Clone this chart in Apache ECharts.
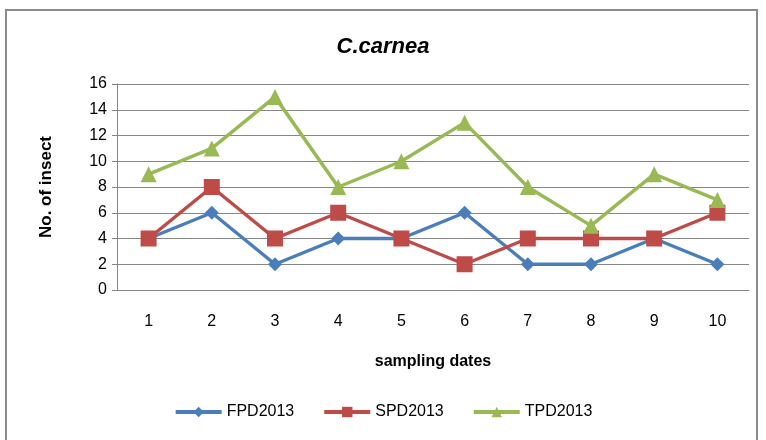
<!DOCTYPE html>
<html>
<head>
<meta charset="utf-8">
<script src="https://cdn.jsdelivr.net/npm/echarts@6/dist/echarts.min.js"></script>
<style>
  html, body { margin: 0; padding: 0; background: #fff; }
  #chart { width: 766px; height: 440px; }
</style>
</head>
<body>
<div id="chart"></div>
<script>
// sampling dates
var dates = ['1', '2', '3', '4', '5', '6', '7', '8', '9', '10'];
var fpd2013 = [4, 6, 2, 4, 4, 6, 2, 2, 4, 2];
var spd2013 = [4, 8, 4, 6, 4, 2, 4, 4, 4, 6];
var tpd2013 = [9, 11, 15, 8, 10, 13, 8, 5, 9, 7];

var font = 'Liberation Sans';
var myChart = echarts.init(document.getElementById('chart'));

myChart.setOption({
	animation: false,
	title: {
		text: 'C.carnea',
		left: 'center',
		top: 31,
		textStyle: { fontFamily: font, fontSize: 22, fontWeight: 'bold', fontStyle: 'italic', color: '#000' }
	},
	graphic: [{
		type: 'rect',
		shape: { x: 6, y: 10, width: 751, height: 440 },
		style: { fill: 'none', stroke: '#8c8c8c', lineWidth: 2 }
	}],
	legend: {
		bottom: 15,
		left: 'center',
		itemWidth: 46,
		itemHeight: 13,
		itemGap: 28,
		textStyle: { fontFamily: font, fontSize: 16, color: '#000' },
		lineStyle: { width: 4 },
		data: ['FPD2013', 'SPD2013', 'TPD2013']
	},
	grid: { left: 117, right: 17, top: 84, bottom: 150 },
	xAxis: {
		type: 'category',
		data: dates,
		name: 'sampling dates',
		nameLocation: 'middle',
		nameGap: 64,
		nameTextStyle: { fontFamily: font, fontSize: 16, fontWeight: 'bold', color: '#000' },
		axisLine: { lineStyle: { color: '#868686' } },
		axisTick: { length: 5, lineStyle: { color: '#868686' } },
		axisLabel: { fontFamily: font, fontSize: 16, color: '#000', margin: 24 }
	},
	yAxis: {
		type: 'value',
		min: 0,
		max: 16,
		interval: 2,
		name: 'No. of insect',
		nameLocation: 'middle',
		nameGap: 62,
		nameTextStyle: { fontFamily: font, fontSize: 17, fontWeight: 'bold', color: '#000' },
		axisLine: { show: true, lineStyle: { color: '#868686' } },
		axisTick: { show: true, length: 5, lineStyle: { color: '#868686' } },
		splitLine: { lineStyle: { color: '#868686' } },
		axisLabel: { fontFamily: font, fontSize: 16, color: '#000', margin: 10 }
	},
	series: [{
		name: 'FPD2013',
		type: 'line',
		data: fpd2013,
		symbol: 'diamond',
		symbolSize: 14,
		itemStyle: { color: '#4a7ebb' },
		lineStyle: { width: 3.5, color: '#4a7ebb' }
	}, {
		name: 'SPD2013',
		type: 'line',
		data: spd2013,
		symbol: 'rect',
		symbolSize: 16,
		itemStyle: { color: '#be4b48' },
		lineStyle: { width: 3.5, color: '#be4b48' }
	}, {
		name: 'TPD2013',
		type: 'line',
		data: tpd2013,
		symbol: 'triangle',
		symbolSize: 16,
		itemStyle: { color: '#98b954' },
		lineStyle: { width: 3.5, color: '#98b954' }
	}]
});
</script>
</body>
</html>
